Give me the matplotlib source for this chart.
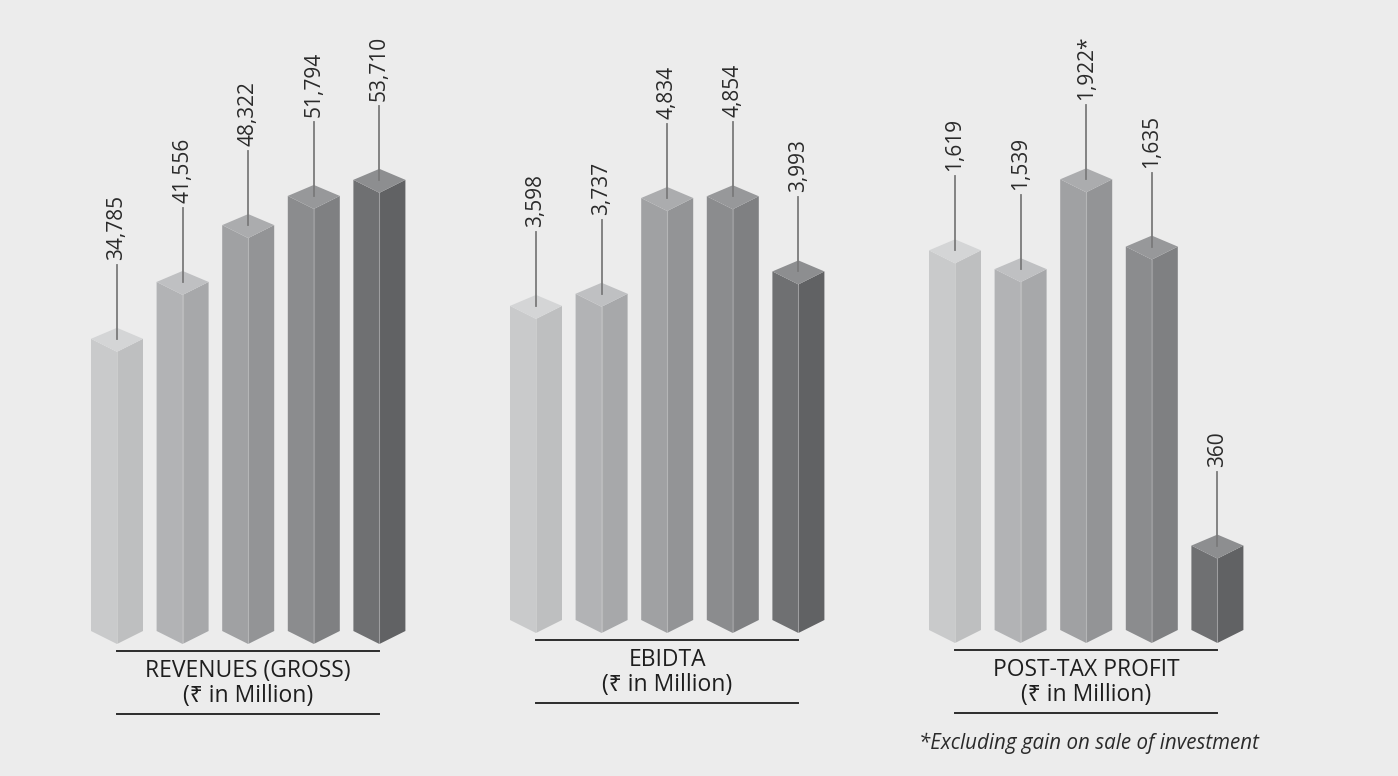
import matplotlib.pyplot as plt
from matplotlib.patches import Polygon

plt.rcParams['font.family'] = ['Open Sans', 'Noto Sans', 'DejaVu Sans']

W, H = 1398, 776

revenue = [34785, 41556, 48322, 51794, 53710]
ebidta = [3598, 3737, 4834, 4854, 3993]
post_tax = [1619, 1539, 1922, 1635, 360]
post_tax_marks = ["", "", "*", "", ""]
no_marks = [""] * 5

# left face, right face, top face for the five years (light -> dark)
left_cols = ["#c9cacb", "#b2b3b5", "#a0a1a3", "#8b8c8e", "#6f7072"]
right_cols = ["#bebfc0", "#a7a8aa", "#939496", "#7f8082", "#616264"]
top_cols = ["#d4d5d6", "#bfc0c2", "#abacae", "#97989a", "#8d8e90"]

fig = plt.figure(figsize=(W / 100, H / 100), dpi=100, facecolor="#ececec")

STEP = 65.6  # px between bar centres


def draw_panel(values, marks, title, first_center, base_px, scale):
    x_lo, x_hi = -0.7, 4.7
    left_px = first_center + x_lo * STEP
    ax = fig.add_axes([left_px / W, 1 - base_px / H,
                       (x_hi - x_lo) * STEP / W, base_px / H])
    ax.set_xlim(x_lo, x_hi)
    ax.set_ylim(0, base_px / scale)
    ax.axis("off")

    hw = 26 / STEP          # half bar width in index units
    front = 13 / scale      # front corner drop of top/bottom faces
    back = 11 / scale       # back corner rise of top face
    px = lambda p: p / scale

    for i, v in enumerate(values):
        lf = [(i - hw, 0), (i, -front), (i, v - front), (i - hw, v)]
        rf = [(i, -front), (i + hw, 0), (i + hw, v), (i, v - front)]
        tf = [(i - hw, v), (i, v + back), (i + hw, v), (i, v - front)]
        ax.add_patch(Polygon(lf, closed=True, fc=left_cols[i], ec="none", clip_on=False))
        ax.add_patch(Polygon(rf, closed=True, fc=right_cols[i], ec="none", clip_on=False))
        ax.add_patch(Polygon(tf, closed=True, fc=top_cols[i], ec="none", clip_on=False))
        # faint highlight along the front edge
        ax.plot([i, i], [-front, v - front], color="white", alpha=0.22, lw=0.8, clip_on=False)

        ax.plot([i, i], [v, v + px(74)], color="#7a7a7a", lw=1.3)
        ax.text(i, v + px(79), f"{v:,}{marks[i]}", rotation=90, ha="center", va="bottom",
                fontsize=15, color="#2a2a2a")

    ax.plot([0, 4], [-px(20)] * 2, color="#2b2b2b", lw=1.4, clip_on=False)
    ax.plot([0, 4], [-px(83)] * 2, color="#2b2b2b", lw=1.4, clip_on=False)
    ax.text(2, -px(40), title, ha="center", va="center", fontsize=16.5, color="#1e1e1e")
    ax.text(2, -px(65), "(₹ in Million)", ha="center", va="center", fontsize=16.5, color="#1e1e1e")


draw_panel(revenue, no_marks, "REVENUES (GROSS)", 117, 631, 0.0084)
draw_panel(ebidta, no_marks, "EBIDTA", 536, 620, 0.0873)
draw_panel(post_tax, post_tax_marks, "POST-TAX PROFIT", 955, 630, 0.2345)

fig.text(919 / W, 1 - 743 / H, "*Excluding gain on sale of investment", ha="left", va="center",
         fontsize=14.8, style="italic", color="#2a2a2a")

fig.savefig("out.png", dpi=100, facecolor=fig.get_facecolor())
